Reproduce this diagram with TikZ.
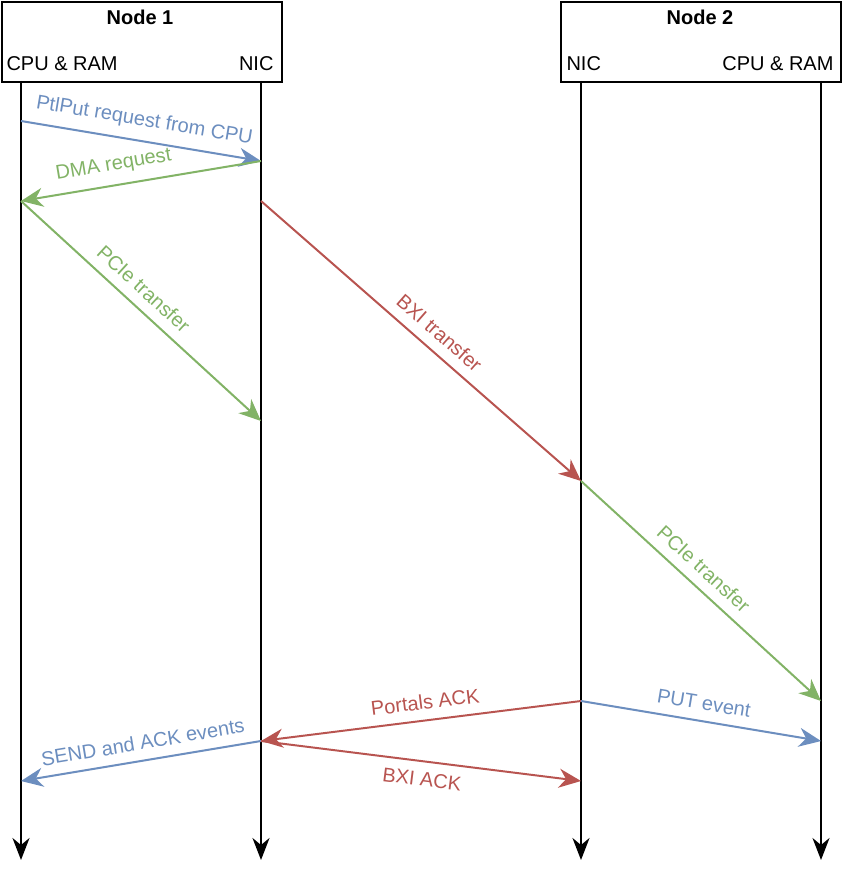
\documentclass[tikz,border=0pt]{standalone}
\usepackage{fontspec}
\setmainfont{Liberation Sans}
\usetikzlibrary{arrows.meta}
\definecolor{msgblue}{HTML}{6C8EBF}
\definecolor{msggreen}{HTML}{82B366}
\definecolor{msgred}{HTML}{B85450}
\begin{document}
\begin{tikzpicture}[x=1pt,y=-1pt,
  every node/.style={font=\fontsize{20}{24}\selectfont},
  nodebox/.style={draw,line width=2pt,minimum width=280pt,minimum height=80pt,anchor=north west,inner sep=0pt},
  msg/.style={line width=2pt,-{Stealth[length=22pt,width=19pt,inset=7pt]}},
  lbl/.style={sloped,above,inner sep=10pt},
  lblb/.style={sloped,below,inner sep=10pt}]
  \useasboundingbox (0,0) rectangle (842,880);

  % Nodi
  \node[nodebox] (box1) at (1,1) {};
  \node[nodebox] (box2) at (560,1) {};
  \node[font=\fontsize{20}{24}\selectfont\bfseries] (title1) at (140,17) {Node 1};
  \node[font=\fontsize{20}{24}\selectfont\bfseries] (title2) at (700,17) {Node 2};
  \node[anchor=west] (cpu1) at (3,64) {CPU \& RAM};
  \node[anchor=east] (nic1) at (277,64) {NIC};
  \node[anchor=west] (nic2) at (563,64) {NIC};
  \node[anchor=east] (cpu2) at (837,64) {CPU \& RAM};

  % Linee di vita
  \foreach \name/\x in {cpuA/21, nicA/261, nicB/581, cpuB/821} {
    \coordinate (\name top) at (\x,81);
    \coordinate (\name end) at (\x,860);
    \draw[line width=2.2pt,-{Stealth[length=22pt,width=17pt,inset=7pt]}] (\name top) -- (\name end);
  }

  % Eventi
  \coordinate (e1) at (21,121);
  \coordinate (e2) at (261,161);
  \coordinate (e3) at (21,201);
  \coordinate (e4) at (261,201);
  \coordinate (e5) at (261,421);
  \coordinate (e6) at (581,481);
  \coordinate (e7) at (821,701);
  \coordinate (e8) at (581,701);
  \coordinate (e9) at (261,741);
  \coordinate (e10) at (821,741);
  \coordinate (e11) at (21,781);
  \coordinate (e12) at (581,781);

  % Messaggi
  \draw[msg,msgblue] (e1) -- (e2) node[lbl,pos=0.5] {PtlPut request from CPU};
  \draw[msg,msggreen] (e2) -- (e3) node[lbl,pos=0.6] {DMA request};
  \draw[msg,msggreen] (e3) -- (e5) node[lbl,pos=0.46] {PCIe transfer};
  \draw[msg,msgred] (e4) -- (e6) node[lbl,pos=0.52] {BXI transfer};
  \draw[msg,msggreen] (e6) -- (e7) node[lbl,pos=0.46] {PCIe transfer};
  \draw[msg,msgred] (e8) -- (e9) node[lbl,pos=0.48] {Portals ACK};
  \draw[msg,msgblue] (e8) -- (e10) node[lbl,pos=0.5] {PUT event};
  \draw[msg,msgblue] (e9) -- (e11) node[lbl,pos=0.48] {SEND and ACK events};
  \draw[msg,msgred] (e9) -- (e12) node[lblb,pos=0.51] {BXI ACK};
\end{tikzpicture}
\end{document}
